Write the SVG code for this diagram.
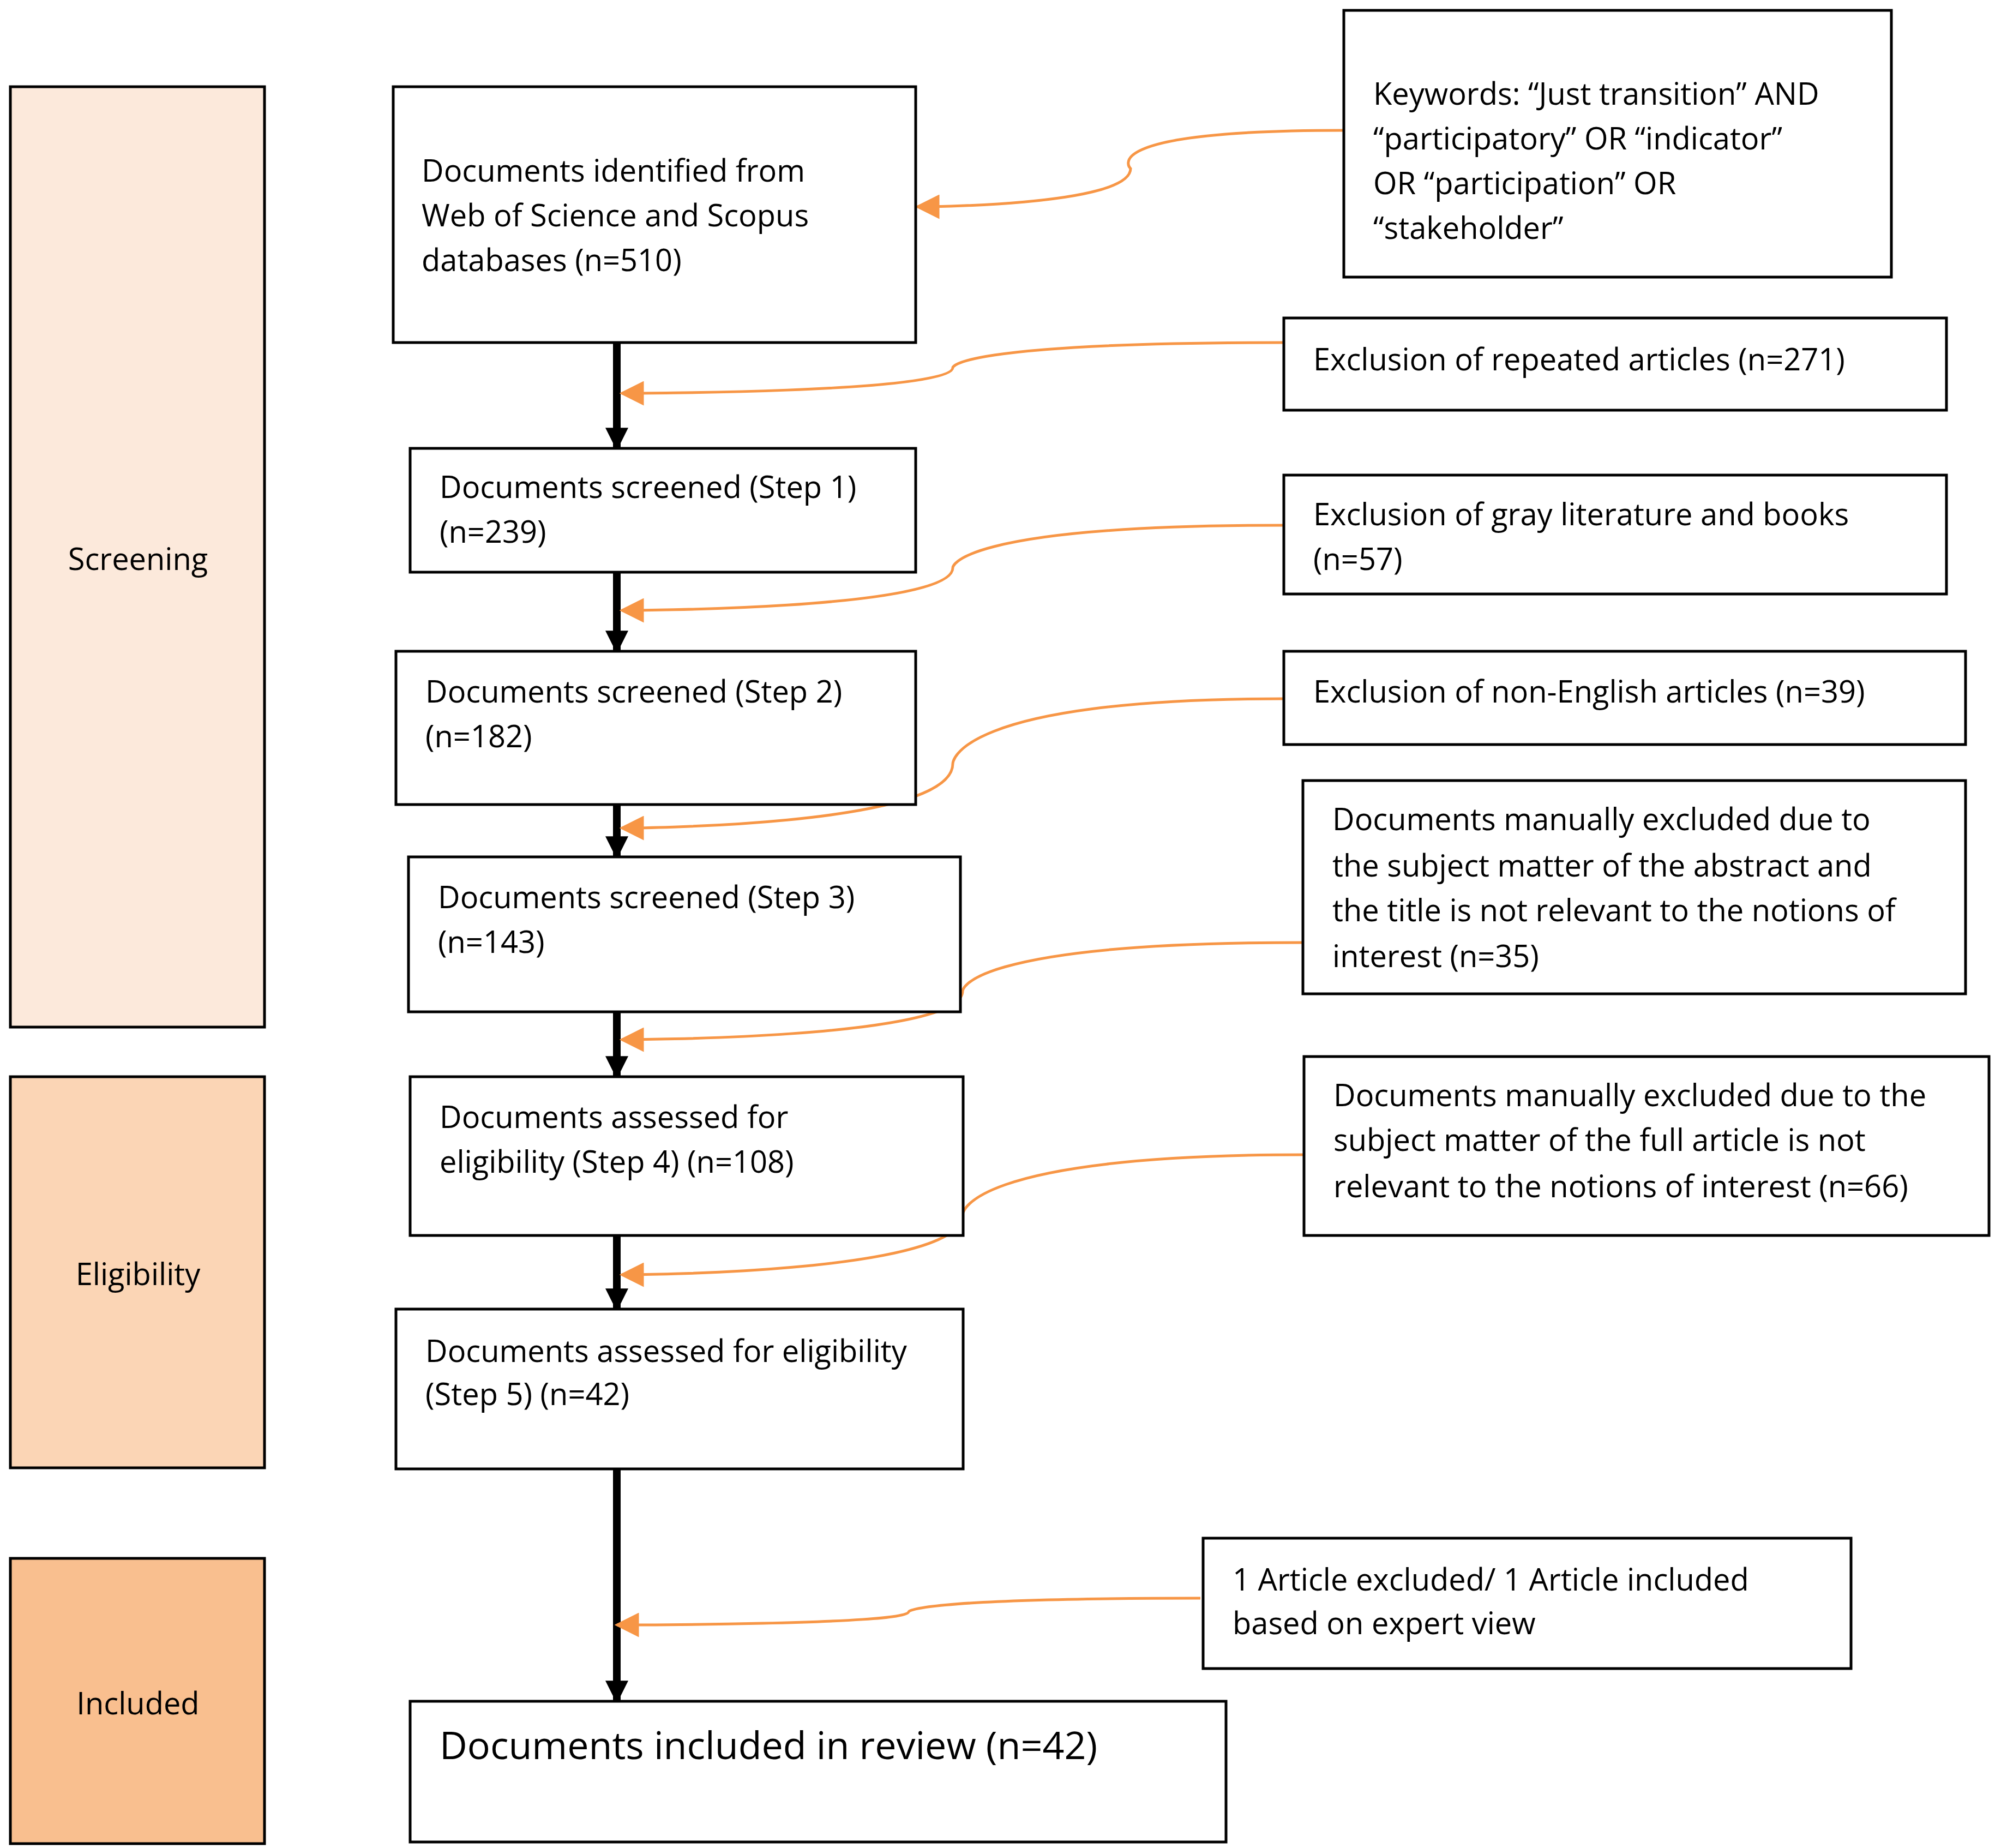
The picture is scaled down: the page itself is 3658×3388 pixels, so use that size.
<svg xmlns="http://www.w3.org/2000/svg" width="3658" height="3388" viewBox="0 0 3658 3388">
<style>
text{font-family:"Open Sans","Liberation Sans",sans-serif;font-size:56px;fill:#000}
.b{fill:#fff;stroke:#000;stroke-width:5}
.p{stroke:#000;stroke-width:5}
.k{stroke:#000;stroke-width:14;fill:none}
.o{stroke:#F79646;stroke-width:5;fill:none}
.c{text-anchor:middle}
</style>
<defs>
<marker id="ak" viewBox="0 0 10 10" refX="9" refY="5" markerWidth="3" markerHeight="3" orient="auto" markerUnits="strokeWidth"><path d="M0,0L10,5L0,10z" fill="#000"/></marker>
<marker id="ao" viewBox="0 0 10 10" refX="9" refY="5" markerWidth="9" markerHeight="9" orient="auto" markerUnits="strokeWidth"><path d="M0,0L10,5L0,10z" fill="#F79646"/></marker>
</defs>
<rect width="3658" height="3388" fill="#fff"/>
<g id="phase-screening"><rect class="p" x="19" y="159" width="466" height="1724" fill="#FCE9DB"/><text class="c" x="253" y="1045">Screening</text></g>
<g id="phase-eligibility"><rect class="p" x="19" y="1974" width="466" height="717" fill="#FBD5B5"/><text class="c" x="253" y="2356">Eligibility</text></g>
<g id="phase-included"><rect class="p" x="19" y="2857" width="466" height="523" fill="#F9BF8F"/><text class="c" x="253" y="3143">Included</text></g>
<g id="connectors">
<path class="k" d="M1131,628V822" marker-end="url(#ak)"/>
<path class="k" d="M1131,1049V1194" marker-end="url(#ak)"/>
<path class="k" d="M1131,1475V1571" marker-end="url(#ak)"/>
<path class="k" d="M1131,1855V1974" marker-end="url(#ak)"/>
<path class="k" d="M1131,2265V2400" marker-end="url(#ak)"/>
<path class="k" d="M1131,2693V3119" marker-end="url(#ak)"/>
<path class="o" d="M2464,239C2000,239 2073,309 2073,309C2073,379 1682,379 1682,379" marker-end="url(#ao)"/>
<path class="o" d="M2354,628C1747,628 1747,674 1747,674C1747,721 1140,721 1140,721" marker-end="url(#ao)"/>
<path class="o" d="M2354,963C1747,963 1747,1041 1747,1041C1747,1119 1140,1119 1140,1119" marker-end="url(#ao)"/>
<path class="o" d="M2354,1281C1747,1281 1747,1400 1747,1400C1747,1518 1140,1518 1140,1518" marker-end="url(#ao)"/>
<path class="o" d="M2389,1728C1765,1728 1765,1817 1765,1817C1765,1906 1140,1906 1140,1906" marker-end="url(#ao)"/>
<path class="o" d="M2391,2117C1765,2117 1765,2227 1765,2227C1765,2337 1140,2337 1140,2337" marker-end="url(#ao)"/>
<path class="o" d="M2201,2930C1666,2930 1666,2955 1666,2955C1666,2979 1131,2979 1131,2979" marker-end="url(#ao)"/>
</g>
<g id="b1"><rect class="b" x="721" y="159" width="958" height="469"/><text x="773" y="333">Documents identified from</text><text x="773" y="415">Web of Science and Scopus</text><text x="773" y="497">databases (n=510)</text></g>
<g id="b2"><rect class="b" x="752" y="822" width="927" height="227"/><text x="806" y="913">Documents screened (Step 1)</text><text x="806" y="995">(n=239)</text></g>
<g id="b3"><rect class="b" x="726" y="1194" width="953" height="281"/><text x="780" y="1288">Documents screened (Step 2)</text><text x="780" y="1370">(n=182)</text></g>
<g id="b4"><rect class="b" x="749" y="1571" width="1012" height="284"/><text x="803" y="1665">Documents screened (Step 3)</text><text x="803" y="1747">(n=143)</text></g>
<g id="b5"><rect class="b" x="752" y="1974" width="1014" height="291"/><text x="806" y="2068">Documents assessed for</text><text x="806" y="2150">eligibility (Step 4) (n=108)</text></g>
<g id="b6"><rect class="b" x="726" y="2400" width="1040" height="293"/><text x="780" y="2497">Documents assessed for eligibility</text><text x="780" y="2576">(Step 5) (n=42)</text></g>
<g id="b7"><rect class="b" x="752" y="3119" width="1496" height="258"/><text x="806" y="3225" style="font-size:70px">Documents included in review (n=42)</text></g>
<g id="keywords"><rect class="b" x="2464" y="19" width="1004" height="489"/><text x="2518" y="192">Keywords: “Just transition” AND</text><text x="2518" y="274">“participatory” OR “indicator”</text><text x="2518" y="356">OR “participation” OR</text><text x="2518" y="438">“stakeholder”</text></g>
<g id="r1"><rect class="b" x="2354" y="583" width="1215" height="169"/><text x="2408" y="679">Exclusion of repeated articles (n=271)</text></g>
<g id="r2"><rect class="b" x="2354" y="871" width="1215" height="218"/><text x="2408" y="963">Exclusion of gray literature and books</text><text x="2408" y="1045">(n=57)</text></g>
<g id="r3"><rect class="b" x="2354" y="1194" width="1250" height="171"/><text x="2408" y="1288">Exclusion of non-English articles (n=39)</text></g>
<g id="r4"><rect class="b" x="2389" y="1431" width="1215" height="391"/><text x="2443" y="1522">Documents manually excluded due to</text><text x="2443" y="1607">the subject matter of the abstract and</text><text x="2443" y="1689">the title is not relevant to the notions of</text><text x="2443" y="1773">interest (n=35)</text></g>
<g id="r5"><rect class="b" x="2391" y="1937" width="1256" height="328"/><text x="2445" y="2028">Documents manually excluded due to the</text><text x="2445" y="2110">subject matter of the full article is not</text><text x="2445" y="2195">relevant to the notions of interest (n=66)</text></g>
<g id="r6"><rect class="b" x="2206" y="2820" width="1188" height="239"/><text x="2260" y="2916">1 Article excluded/ 1 Article included</text><text x="2260" y="2996">based on expert view</text></g>
</svg>
